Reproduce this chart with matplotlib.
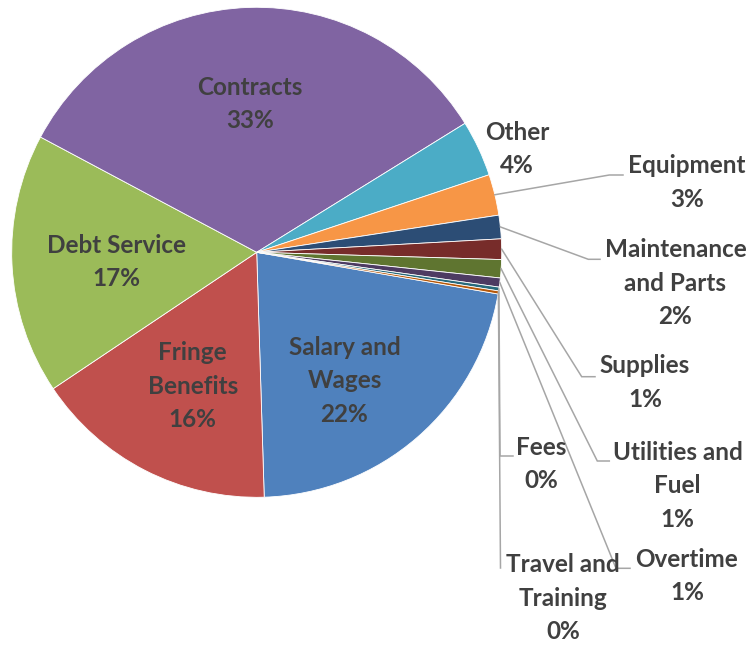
import numpy as np
import matplotlib.pyplot as plt

plt.rcParams['font.family'] = ['Lato', 'DejaVu Sans']

categories = ['Salary and\nWages', 'Fringe\nBenefits', 'Debt Service', 'Contracts', 'Other',
              'Equipment', 'Maintenance\nand Parts', 'Supplies', 'Utilities and\nFuel',
              'Overtime', 'Fees', 'Travel and\nTraining']
values = [21.8, 16.1, 17.2, 33.4, 3.7, 2.7, 1.55, 1.35, 1.2, 0.6, 0.25, 0.2]
colors = ['#4F81BD', '#C0504D', '#9BBB59', '#8064A2', '#4BACC6', '#F79646',
          '#2C4D75', '#772C2A', '#5F7530', '#4D3B62', '#276A7C', '#B65708']

W, H = 753, 645
cx, cy, R = 256.7, 252.3, 245   # pixel coords, y from top

# label centres (pixel coords, y from top)
label_pos = [(344.5, 381), (192.7, 386), (116.3, 262), (250, 104), (517, 149),
             (687, 182.5), (675.5, 283.3), (645, 382.5), (677.5, 485.7),
             (687, 576), (541.3, 464), (563, 598)]
# leader lines: elbow point and end x (None = no leader)
leaders = [None, None, None, None, None,
           (609.3, 175, 623), (588.3, 259.3, 600), (581.7, 376.7, 595),
           (597.3, 461, 609.3), (616, 568.3, 630), (500, 456, 513), (500.5, 568, 500.5)]

fig = plt.figure(figsize=(W / 100, H / 100), dpi=100)
ax = fig.add_axes([0, 0, 1, 1])

wedges, _ = ax.pie(values, colors=colors, startangle=-9.8, counterclock=False,
                   center=(cx, H - cy), radius=R, frame=True,
                   wedgeprops={'linewidth': 0.6, 'edgecolor': 'white'})
ax.set_xlim(0, W)
ax.set_ylim(0, H)
ax.set_aspect('equal')
ax.axis('off')

total = sum(values)
for i, w in enumerate(wedges):
    pct = values[i] / total * 100
    x, y = label_pos[i]
    ax.text(x, H - y, f'{categories[i]}\n{pct:.0f}%', ha='center', va='center',
            fontsize=17.5, fontweight='bold', color='#404040', linespacing=1.55)
    if leaders[i] is not None:
        mid = np.deg2rad((w.theta1 + w.theta2) / 2)
        x0 = cx + R * np.cos(mid)
        y0 = (H - cy) + R * np.sin(mid)
        ex, ey, endx = leaders[i]
        ax.plot([x0, ex, endx], [y0, H - ey, H - ey], color='#A6A6A6', lw=1.1,
                solid_joinstyle='miter')

fig.savefig('out.png', dpi=100)
